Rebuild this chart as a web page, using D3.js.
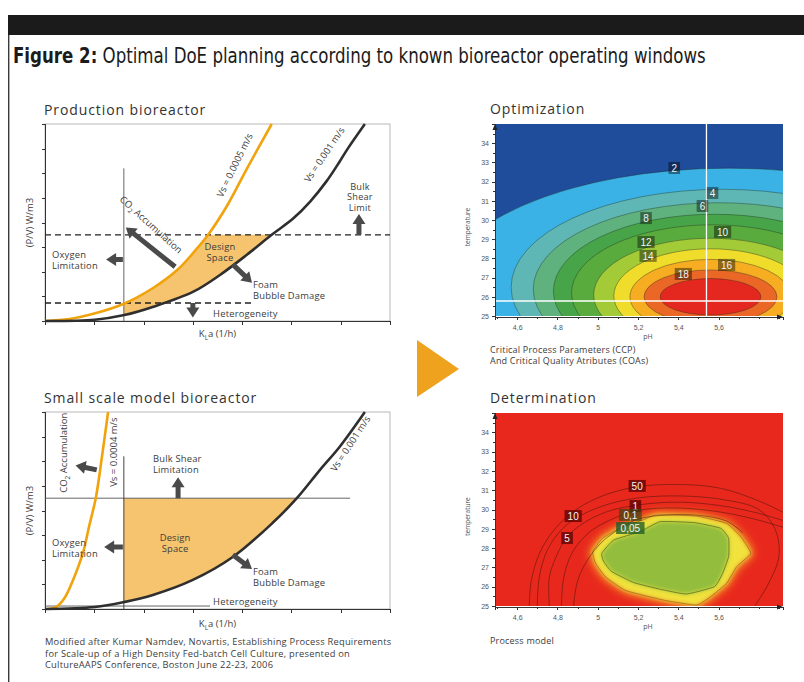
<!DOCTYPE html>
<html>
<head>
<meta charset="utf-8">
<script src="https://cdn.jsdelivr.net/npm/d3@7"></script>
<style>
  body { margin: 0; background: #fff; }
  svg { display: block; }
  text { font-family: "Open Sans", "Noto Sans", sans-serif; fill: #3c3c3c; }
  .axis path, .axis line { stroke: #333; shape-rendering: crispEdges; }
  .axis text { font-size: 7px; fill: #555; font-family: "Liberation Sans", sans-serif; }
</style>
</head>
<body>
<svg id="fig" width="804" height="682"></svg>
<script>
// ---------------- data ----------------
const kTicks = [0, 1, 2, 3, 4, 5, 6, 7]
const pvTicks = [1, 2, 3, 4, 5, 6, 7]

// production bioreactor, (KLa, P/V)
const prodVs0005 = [[0, 0], [0.5, 0.08], [1.0, 0.3], [1.6, 0.7], [2.2, 1.35], [2.7, 2.1], [3.0, 2.75], [3.31, 3.5], [3.7, 4.7], [4.1, 6.2], [4.6, 8]]
const prodVs001 = [[0, 0], [1.01, 0.05], [1.61, 0.24], [2.2, 0.58], [3.01, 1.19], [3.55, 1.87], [4.09, 2.68], [4.6, 3.5], [5.04, 4.17], [5.38, 4.85], [5.71, 5.67], [5.98, 6.48], [6.15, 7.02], [6.49, 8]]
const prodShear = 3.5
const prodHetero = 0.73, prodHeteroEnd = 4.22
const prodO2 = 1.6, prodO2Top = 6.2

// small scale model
const smallVs0004 = [[0.05, 0], [0.24, 0.1], [0.41, 0.49], [0.57, 1.18], [0.77, 2.28], [0.9, 3.4], [1.03, 4.5], [1.15, 6.1], [1.28, 8]]
const smallVs001 = [[0, 0], [1.01, 0.08], [1.6, 0.28], [2.19, 0.57], [3.0, 1.18], [3.81, 2.11], [4.62, 3.5], [5.11, 4.5], [5.58, 5.65], [5.98, 6.59], [6.49, 8]]
const smallShear = 4.5, smallShearEnd = 6.19
const smallHetero = 0.12, smallHeteroEnd = 3.35
const smallO2 = 1.6, smallO2Top = 6.2

// optimization contour levels (ellipses)
const optLevels = [2, 4, 6, 8, 10, 12, 14, 16, 18, 20]
const optCentrePH = [5.65, 5.62, 5.6, 5.58, 5.57, 5.56, 5.56, 5.56, 5.56, 5.56]
const optCentreT = [26.0, 26.5, 26.4, 26.3, 26.2, 26.1, 26.05, 26.0, 26.0, 26.0]
const optHalfPH = [1.45, 1.05, 0.92, 0.8, 0.7, 0.58, 0.48, 0.40, 0.33, 0.25]
const optTopT = [32.7, 31.6, 30.9, 30.3, 29.75, 29.05, 28.5, 27.95, 27.4, 26.95]
const optLabels = ['2', '4', '6', '8', '10', '12', '14', '16', '18']
const optLabelPos = [[5.38, 32.71], [5.57, 31.41], [5.52, 30.73], [5.24, 30.1], [5.62, 29.38], [5.24, 28.85], [5.25, 28.13], [5.64, 27.66], [5.425, 27.19]]
const optSetPoint = [5.54, 25.78]

const tempTicks = [25, 26, 27, 28, 29, 30, 31, 32, 33, 34]
const phTicks = [4.6, 4.8, 5, 5.2, 5.4, 5.6]

// determination: design space blob and contour lines
const detOuter = [[4.975, 27.81], [5.025, 28.51], [5.108, 29.03], [5.225, 29.46], [5.29, 29.72], [5.49, 29.66], [5.64, 29.28], [5.71, 28.59], [5.76, 27.73], [5.69, 27.04], [5.64, 26.18], [5.56, 25.48], [5.49, 25.05], [5.33, 25.3], [5.14, 25.8], [5.04, 26.5], [4.99, 27.2]]
const detInner = [[5.02, 27.73], [5.08, 28.42], [5.21, 28.85], [5.31, 29.37], [5.48, 29.32], [5.61, 29.03], [5.65, 28.51], [5.65, 27.56], [5.62, 26.69], [5.58, 26.0], [5.44, 25.62], [5.31, 25.87], [5.18, 26.21], [5.07, 26.78], [5.03, 27.3]]
const detLine50 = [[4.66, 25], [4.67, 26.3], [4.71, 27.7], [4.78, 28.9], [4.88, 29.9], [5.01, 30.65], [5.18, 31.15], [5.39, 31.3], [5.61, 31.1], [5.81, 30.4], [5.93, 29.8]]
const detLine10 = [[4.70, 25], [4.71, 26.5], [4.75, 27.9], [4.82, 28.95], [4.9, 29.6], [5.03, 30.2], [5.2, 30.6], [5.42, 30.7], [5.63, 30.5], [5.8, 30.0], [5.88, 29.0], [5.9, 27.6], [5.85, 26.2], [5.78, 25]]
const detLine5 = [[4.76, 25], [4.76, 26.5], [4.8, 27.7], [4.85, 28.6], [4.93, 29.3], [5.05, 29.9], [5.21, 30.25], [5.41, 30.38], [5.61, 30.2], [5.78, 29.85], [5.93, 29.4]]
const detLine1 = [[4.82, 25], [4.83, 26.4], [4.87, 27.7], [4.95, 28.75], [5.06, 29.45], [5.2, 29.95], [5.39, 30.08], [5.59, 29.9], [5.76, 29.55], [5.93, 29.05]]
const detLine01 = [[4.88, 25], [4.9, 26.3], [4.95, 27.4], [5.02, 28.3], [5.1, 28.95], [5.2, 29.5], [5.35, 29.72], [5.5, 29.7], [5.64, 29.4], [5.72, 28.8]]
const detLabels = ['50', '10', '5', '1', '0,1', '0,05']
const detLabelPos = [[5.196, 31.22], [4.878, 29.66], [4.848, 28.52], [5.187, 30.18], [5.162, 29.72], [5.162, 29.04]]

// ---------------- setup ----------------
const $svg = d3.select('#fig')
const $defs = $svg.append('defs')

const kScale = d3.scaleLinear().domain([0, 7]).range([45, 390])
const pvTop = d3.scaleLinear().domain([0, 8]).range([321, 124])
const pvBottom = d3.scaleLinear().domain([0, 8]).range([609, 412])

const phScale = d3.scaleLinear().domain([4.49, 5.92]).range([495, 783])
const tempTop = d3.scaleLinear().domain([25, 35]).range([316, 124])
const tempBottom = d3.scaleLinear().domain([25, 35]).range([606, 413])

const bandColour = d3.scaleThreshold()
  .domain(optLevels)
  .range(['#1f4c9b', '#3bb2e5', '#5eb7b4', '#5fb27e', '#47a449', '#5aab3d', '#a3cb38', '#efdc2b', '#f6ad22', '#eb6726', '#e4281f'])

const DARK = '#2f2f2f', ORANGE = '#f0a30c', FILL = '#f6c46e', ARROW = '#4a4a4a'

const blur = (id, sd) => $defs.append('filter').attr('id', id)
  .attr('x', '-30%').attr('y', '-30%').attr('width', '160%').attr('height', '160%')
  .append('feGaussianBlur').attr('stdDeviation', sd)
blur('blur4', 4)
blur('blur2', 2.2)

function clipRect(id, x0, y0, x1, y1) {
  $defs.append('clipPath').attr('id', id)
    .append('rect').attr('x', x0).attr('y', y0).attr('width', x1 - x0).attr('height', y1 - y0)
}

function arrowPath(x1, y1, x2, y2, w = 5, hl = 10, hw = 13) {
  const L = Math.hypot(x2 - x1, y2 - y1), ux = (x2 - x1) / L, uy = (y2 - y1) / L
  const nx = -uy, ny = ux, bx = x2 - ux * hl, by = y2 - uy * hl
  const p = [
    [x1 + nx * w / 2, y1 + ny * w / 2], [bx + nx * w / 2, by + ny * w / 2], [bx + nx * hw / 2, by + ny * hw / 2],
    [x2, y2],
    [bx - nx * hw / 2, by - ny * hw / 2], [bx - nx * w / 2, by - ny * w / 2], [x1 - nx * w / 2, y1 - ny * w / 2]
  ]
  return 'M' + p.map(d => d.join(',')).join('L') + 'Z'
}

function arrow(g, x, y, a, b) {
  g.append('path').attr('d', arrowPath(x(a[0]), y(a[1]), x(b[0]), y(b[1]))).attr('fill', ARROW)
}

function label(g, lines, x, y, anchor = 'start', size = 9.4, lh = 11) {
  const t = g.append('text').attr('x', x).attr('y', y).attr('text-anchor', anchor)
    .style('font-size', size + 'px').style('letter-spacing', '0.2px')
  lines.forEach((s, i) => t.append('tspan').attr('x', x).attr('dy', i ? lh : 0).text(s))
  return t
}

function kLaLabel(g, x, y) {
  const t = g.append('text').attr('x', x).attr('y', y).attr('text-anchor', 'middle').style('font-size', '9.5px')
  t.append('tspan').text('K')
  t.append('tspan').attr('dy', 2.5).style('font-size', '6.5px').text('L')
  t.append('tspan').attr('dy', -2.5).text('a (1/h)')
}

function co2Text(t) {
  t.append('tspan').text('CO')
  t.append('tspan').attr('dy', 2.5).style('font-size', '6.5px').text('2')
  t.append('tspan').attr('dy', -2.5).text(' Accumulation')
}

// ---------------- frame & title ----------------
$svg.append('rect').attr('x', 8).attr('y', 15).attr('width', 796).attr('height', 20).attr('fill', '#1b1b1b')
$svg.append('line').attr('x1', 8.7).attr('x2', 8.7).attr('y1', 35).attr('y2', 682)
  .attr('stroke', '#3a3a3a').attr('stroke-width', 1.4)

const $title = $svg.append('g')
const title = $title.append('text').attr('x', 0).attr('y', 0)
  .style('font-family', '"Liberation Sans Narrow", "DejaVu Sans Condensed", sans-serif')
  .style('font-size', '22px').style('fill', '#1b1b1b')
title.append('tspan').style('font-weight', 'bold').text('Figure 2:')
title.append('tspan').text(' Optimal DoE planning according to known bioreactor operating windows')
// squeeze to the condensed width of the original heading
const titleScale = 693 / title.node().getComputedTextLength()
$title.attr('transform', `translate(13,63) scale(${titleScale},1)`)

// orange "next step" triangle
$svg.append('path').attr('d', 'M417,340L417,397L459,369Z').attr('fill', '#eea21d')

// ---------------- left panels ----------------
function drawFrame(g, y, titleText, titleY, labelY) {
  const [x0, x1] = kScale.range(), [y0, y1] = y.range()
  g.append('rect').attr('x', x0).attr('y', y1).attr('width', x1 - x0).attr('height', y0 - y1)
    .attr('fill', 'none').attr('stroke', '#a9a9a9').attr('stroke-width', 0.8)

  g.append('g').attr('class', 'axis').attr('transform', `translate(0,${y0})`)
    .call(d3.axisBottom(kScale).tickValues(kTicks).tickSize(4).tickFormat(''))
    .call(s => s.select('.domain').attr('stroke-width', 1.2))
  g.append('g').attr('class', 'axis').attr('transform', `translate(${x0},0)`)
    .call(d3.axisLeft(y).tickValues(pvTicks).tickSize(3).tickFormat(''))
    .call(s => s.select('.domain').attr('stroke', '#777'))
    .call(s => s.selectAll('.tick line').attr('stroke', '#777'))

  g.append('text').attr('x', 44).attr('y', titleY).style('font-size', '14px').style('letter-spacing', '0.9px')
    .style('fill', '#333').text(titleText)
  g.append('text').attr('transform', `translate(33,${(y0 + y1) / 2}) rotate(-90)`)
    .attr('text-anchor', 'middle').style('font-size', '9.5px').text('(P/V) W/m3')
  kLaLabel(g, (x0 + x1) / 2, labelY)
}

function drawProduction() {
  const g = $svg.append('g')
  const y = pvTop
  const line = d3.line().x(d => kScale(d[0])).y(d => y(d[1])).curve(d3.curveCatmullRom)

  clipRect('prodDesign', kScale(prodO2), y(prodShear), kScale(7), y(0))
  g.append('path')
    .attr('d', line(prodVs0005.concat(prodVs001.slice().reverse())) + 'Z')
    .attr('fill', FILL).attr('clip-path', 'url(#prodDesign)')

  drawFrame(g, y, 'Production bioreactor', 115, 337)

  g.append('line').attr('x1', kScale(0)).attr('x2', kScale(7)).attr('y1', y(prodShear)).attr('y2', y(prodShear))
    .attr('stroke', '#222').attr('stroke-width', 1.3).attr('stroke-dasharray', '6,4')
  g.append('line').attr('x1', kScale(0)).attr('x2', kScale(prodHeteroEnd)).attr('y1', y(prodHetero)).attr('y2', y(prodHetero))
    .attr('stroke', '#222').attr('stroke-width', 1.3).attr('stroke-dasharray', '6,4')
  g.append('line').attr('x1', kScale(prodO2)).attr('x2', kScale(prodO2)).attr('y1', y(0)).attr('y2', y(prodO2Top))
    .attr('stroke', '#666').attr('stroke-width', 1)

  g.append('path').attr('d', line(prodVs0005)).attr('fill', 'none').attr('stroke', ORANGE).attr('stroke-width', 2.6)
  g.append('path').attr('d', line(prodVs001)).attr('fill', 'none').attr('stroke', DARK).attr('stroke-width', 2.6)

  g.append('text').attr('transform', `translate(${kScale(3.6)},${y(5.0)}) rotate(-64)`)
    .style('font-size', '9.5px').text('Vs = 0.0005 m/s')
  g.append('text').attr('transform', `translate(${kScale(5.36)},${y(5.6)}) rotate(-56)`)
    .style('font-size', '9.5px').text('Vs = 0.001 m/s')
  co2Text(g.append('text').attr('transform', `translate(${kScale(1.5)},${y(4.9)}) rotate(42)`)
    .style('font-size', '9.5px'))

  label(g, ['Bulk', 'Shear', 'Limit'], kScale(6.39), y(5.33), 'middle', 9.2, 10.6)
  label(g, ['Oxygen', 'Limitation'], kScale(0.14), y(2.55))
  label(g, ['Design', 'Space'], kScale(3.55), y(2.89), 'middle')
  label(g, ['Foam', 'Bubble Damage'], kScale(4.22), y(1.36))
  label(g, ['Heterogeneity'], kScale(3.41), y(0.17))

  arrow(g, kScale, y, [6.37, 3.5], [6.37, 4.35])
  arrow(g, kScale, y, [2.64, 2.2], [1.64, 3.8])
  arrow(g, kScale, y, [1.58, 2.5], [1.24, 2.5])
  arrow(g, kScale, y, [3.81, 2.3], [4.2, 1.55])
  arrow(g, kScale, y, [3.0, 0.73], [3.0, 0.14])
}

function drawSmall() {
  const g = $svg.append('g')
  const y = pvBottom
  const line = d3.line().x(d => kScale(d[0])).y(d => y(d[1])).curve(d3.curveCatmullRom)

  clipRect('smallDesign', kScale(smallO2), y(smallShear), kScale(7), y(0))
  g.append('path')
    .attr('d', line(smallVs001.concat([[0, 8]])) + 'Z')
    .attr('fill', FILL).attr('clip-path', 'url(#smallDesign)')

  drawFrame(g, y, 'Small scale model bioreactor', 403, 627)

  g.append('line').attr('x1', kScale(0)).attr('x2', kScale(smallShearEnd)).attr('y1', y(smallShear)).attr('y2', y(smallShear))
    .attr('stroke', '#555').attr('stroke-width', 0.9)
  g.append('line').attr('x1', kScale(0)).attr('x2', kScale(smallHeteroEnd)).attr('y1', y(smallHetero)).attr('y2', y(smallHetero))
    .attr('stroke', '#555').attr('stroke-width', 0.9)
  g.append('line').attr('x1', kScale(smallO2)).attr('x2', kScale(smallO2)).attr('y1', y(0)).attr('y2', y(smallO2Top))
    .attr('stroke', '#444').attr('stroke-width', 1)

  g.append('path').attr('d', line(smallVs0004)).attr('fill', 'none').attr('stroke', ORANGE).attr('stroke-width', 2.6)
  g.append('path').attr('d', line(smallVs001)).attr('fill', 'none').attr('stroke', DARK).attr('stroke-width', 2.6)

  co2Text(g.append('text').attr('transform', `translate(${kScale(0.45)},${y(4.72)}) rotate(-90)`)
    .style('font-size', '9.5px'))
  g.append('text').attr('transform', `translate(${kScale(1.46)},${y(4.96)}) rotate(-90)`)
    .style('font-size', '9.5px').text('Vs = 0.0004 m/s')
  g.append('text').attr('transform', `translate(${kScale(5.9)},${y(5.55)}) rotate(-57)`)
    .style('font-size', '9.5px').text('Vs = 0.001 m/s')

  label(g, ['Bulk Shear', 'Limitation'], kScale(2.19), y(5.95))
  label(g, ['Oxygen', 'Limitation'], kScale(0.14), y(2.55))
  label(g, ['Design', 'Space'], kScale(2.64), y(2.78), 'middle')
  label(g, ['Foam', 'Bubble Damage'], kScale(4.22), y(1.37))
  label(g, ['Heterogeneity'], kScale(3.41), y(0.16))

  arrow(g, kScale, y, [1.05, 5.65], [0.62, 5.83])
  arrow(g, kScale, y, [2.7, 4.5], [2.7, 5.35])
  arrow(g, kScale, y, [1.58, 2.52], [1.2, 2.52])
  arrow(g, kScale, y, [3.81, 2.2], [4.2, 1.62])

  const cap = label(g, ['Modified after Kumar Namdev, Novartis, Establishing Process Requirements',
    'for Scale-up of a High Density Fed-batch Cell Culture, presented on',
    'CultureAAPS Conference, Boston June 22-23, 2006'], 45, 645, 'start', 9.3, 11.6)
  cap.style('letter-spacing', '0.25px')
}

// ---------------- right panels ----------------
function drawPHAxes(g, y, titleText, titleY, sub, subY) {
  const [x0, x1] = phScale.range(), [y0, y1] = y.range()
  const fmt = d => String(+d.toFixed(1)).replace('.', ',')
  g.append('g').attr('class', 'axis').attr('transform', `translate(0,${y0 + 1})`)
    .call(d3.axisBottom(phScale).tickValues(d3.range(4.5, 5.95, 0.1)).tickSize(2).tickFormat(''))
  g.append('g').attr('class', 'axis').attr('transform', `translate(0,${y0 + 1})`)
    .call(d3.axisBottom(phScale).tickValues(phTicks).tickSize(3).tickPadding(5).tickFormat(fmt))
  g.append('g').attr('class', 'axis').attr('transform', `translate(${x0},0)`)
    .call(d3.axisLeft(y).tickValues(d3.range(25, 35, 0.5)).tickSize(2).tickFormat(''))
  g.append('g').attr('class', 'axis').attr('transform', `translate(${x0},0)`)
    .call(d3.axisLeft(y).tickValues(tempTicks).tickSize(3).tickFormat(d3.format('d')))
  g.append('path').attr('d', `M${x0 - 2.5},${y1 + 6}L${x0 + 2.5},${y1 + 6}L${x0},${y1}Z`).attr('fill', '#222')
  g.append('path').attr('d', `M${x1 - 6},${y0 - 1.5}L${x1 - 6},${y0 + 3.5}L${x1},${y0 + 1}Z`).attr('fill', '#222')

  g.append('text').attr('x', phScale(5.25)).attr('y', y0 + 23).attr('text-anchor', 'middle')
    .style('font-size', '7px').style('fill', '#555').text('pH')
  g.append('text').attr('transform', `translate(470,${(y0 + y1) / 2 + 7}) rotate(-90)`).attr('text-anchor', 'middle')
    .style('font-size', '6.5px').style('fill', '#555').text('temperature')
  g.append('text').attr('x', 490).attr('y', titleY).style('font-size', '14px').style('fill', '#333')
    .style('letter-spacing', '0.9px').text(titleText)
  const t = label(g, sub, 490, subY, 'start', 9, 11)
  t.style('letter-spacing', '0.2px')
}

function valueBox(g, text, cx, cy, fill) {
  const w = text.length * 5.6 + 6, h = 12
  g.append('rect').attr('x', cx - w / 2).attr('y', cy - h / 2).attr('width', w).attr('height', h).attr('fill', fill)
  g.append('text').attr('x', cx).attr('y', cy + 3.6).attr('text-anchor', 'middle')
    .style('font-family', '"Liberation Sans", sans-serif').style('font-size', '10px').style('fill', '#f4f4f4').text(text)
}

function drawOptimization() {
  const g = $svg.append('g')
  const y = tempTop
  const [x0, x1] = phScale.range(), [y0, y1] = y.range()
  clipRect('optClip', x0, y1, x1, y0)
  const plot = g.append('g').attr('clip-path', 'url(#optClip)')

  plot.append('rect').attr('x', x0).attr('y', y1).attr('width', x1 - x0).attr('height', y0 - y1)
    .attr('fill', bandColour(0))
  plot.selectAll('ellipse').data(optLevels).join('ellipse')
    .attr('cx', (d, i) => phScale(optCentrePH[i]))
    .attr('cy', (d, i) => y(optCentreT[i]))
    .attr('rx', (d, i) => phScale(optCentrePH[i] + optHalfPH[i]) - phScale(optCentrePH[i]))
    .attr('ry', (d, i) => y(optCentreT[i]) - y(optTopT[i]))
    .attr('fill', d => bandColour(d))
    .attr('stroke', 'rgba(30,40,30,0.55)').attr('stroke-width', 0.7)

  // set point cross hair
  plot.append('line').attr('x1', phScale(optSetPoint[0])).attr('x2', phScale(optSetPoint[0]))
    .attr('y1', y1).attr('y2', y0).attr('stroke', '#fff').attr('stroke-width', 1.3)
  plot.append('line').attr('x1', x0).attr('x2', x1).attr('y1', y(optSetPoint[1])).attr('y2', y(optSetPoint[1]))
    .attr('stroke', '#fff').attr('stroke-width', 1.3)

  optLabels.forEach((t, i) => {
    valueBox(plot, t, phScale(optLabelPos[i][0]), y(optLabelPos[i][1]), 'rgba(0,0,0,0.42)')
  })

  drawPHAxes(g, y, 'Optimization', 114,
    ['Critical Process Parameters (CCP)', 'And Critical Quality Atributes (COAs)'], 353)
}

function drawDetermination() {
  const g = $svg.append('g')
  const y = tempBottom
  const [x0, x1] = phScale.range(), [y0, y1] = y.range()
  clipRect('detClip', x0, y1, x1, y0)
  const plot = g.append('g').attr('clip-path', 'url(#detClip)')
  const closed = d3.line().x(d => phScale(d[0])).y(d => y(d[1])).curve(d3.curveCardinalClosed.tension(0.6))
  const open = d3.line().x(d => phScale(d[0])).y(d => y(d[1])).curve(d3.curveCatmullRom)

  plot.append('rect').attr('x', x0).attr('y', y1).attr('width', x1 - x0).attr('height', y0 - y1).attr('fill', '#e8281d')

  plot.append('path').attr('d', closed(detOuter)).attr('fill', '#f39a26')
    .attr('stroke', '#f39a26').attr('stroke-width', 6).attr('filter', 'url(#blur4)')
  plot.append('path').attr('d', closed(detOuter)).attr('fill', '#f1e23c').attr('filter', 'url(#blur2)')
  plot.append('path').attr('d', closed(detInner)).attr('fill', '#93bd3e').attr('filter', 'url(#blur2)')

  const lines = [detLine50, detLine10, detLine5, detLine1, detLine01]
  plot.selectAll('.det-line').data(lines).join('path').attr('class', 'det-line')
    .attr('d', open).attr('fill', 'none').attr('stroke', 'rgba(60,20,10,0.6)').attr('stroke-width', 0.8)
  plot.append('path').attr('d', closed(detOuter)).attr('fill', 'none')
    .attr('stroke', 'rgba(60,40,10,0.45)').attr('stroke-width', 0.8)
  plot.append('path').attr('d', closed(detInner)).attr('fill', 'none')
    .attr('stroke', 'rgba(30,50,10,0.6)').attr('stroke-width', 0.8)

  const boxFill = ['rgba(80,0,0,0.7)', 'rgba(80,0,0,0.7)', 'rgba(80,0,0,0.7)', 'rgba(80,0,0,0.7)',
    'rgba(60,70,20,0.7)', 'rgba(20,90,40,0.75)']
  detLabels.forEach((t, i) => {
    valueBox(plot, t, phScale(detLabelPos[i][0]), y(detLabelPos[i][1]), boxFill[i])
  })

  drawPHAxes(g, y, 'Determination', 403, ['Process model'], 644)
}

drawProduction()
drawSmall()
drawOptimization()
drawDetermination()
</script>
</body>
</html>
